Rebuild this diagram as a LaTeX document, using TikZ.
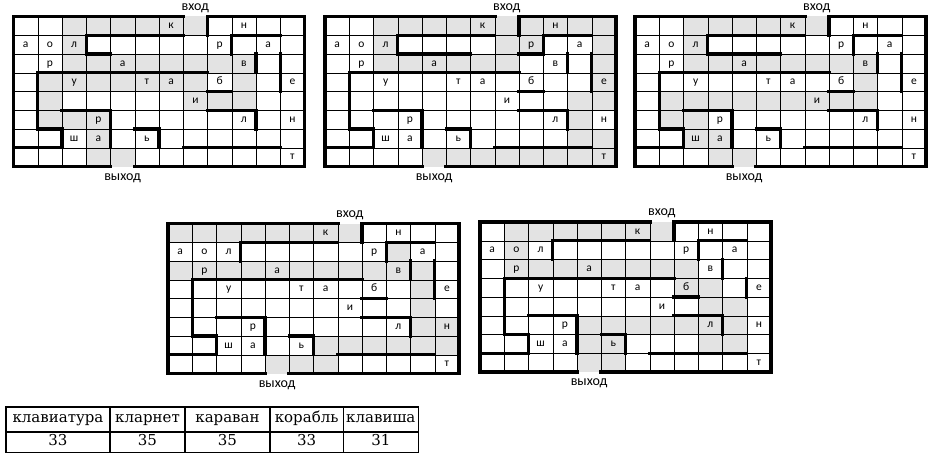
\documentclass[tikz,border=0pt]{standalone}
\usepackage{fontspec}
\setmainfont{Carlito}
\newfontfamily\tablefont{DejaVu Serif}

\definecolor{pathgray}{RGB}{227,227,227}

\newcommand{\mazeletters}{6/0/к, 9/0/н, 0/1/а, 1/1/о, 2/1/л, 8/1/р, 10/1/а,
  1/2/р, 4/2/а, 9/2/в, 2/3/у, 5/3/т, 6/3/а, 8/3/б, 11/3/е, 7/4/и,
  3/5/р, 9/5/л, 11/5/н, 2/6/ш, 3/6/а, 5/6/ь, 11/7/т}

% #1,#2 corner, #3 name, #4 shaded runs row/from/to, #5 extra walls
\newcommand{\maze}[5]{%
\begin{scope}[shift={(#1,#2)},x=24.25pt,y=-18.75pt]
\foreach \ry/\ca/\cb in {#4}
  \fill [pathgray] (\ca,\ry) rectangle (\cb+1,\ry+1);
\foreach \i in {1,...,11}
  \draw [black] (\i,0) -- (\i,8);
\foreach \j in {1,...,7}
  \draw [black] (0,\j) -- (12,\j);
\foreach \cx/\ry/\t in \mazeletters
  \node [letter] (#3-\cx-\ry) at (\cx+0.5,\ry+0.5) {\t};
\draw [outerwall] (7,0) -- (0,0) -- (0,8) -- (4,8);
\draw [outerwall] (5,8) -- (12,8) -- (12,0) -- (8,0);
\draw [wall] (8,0) -- (8,1);
\draw [wall] (3,2) -- (3,1) -- (7,1);
\draw [wall] (9,2) -- (9,1) -- (11,1);
\draw [wall] (10,2) -- (10,3);
\draw [wall] (8,3) -- (1,3) -- (1,6) -- (2,6) -- (2,7) -- (0,7);
\draw [wall] (8,4) -- (9,4);
\draw [wall] (2,5) -- (4,5) -- (4,7);
\draw [wall] (8,5) -- (10,5) -- (10,6);
\draw [wall] (5,6) -- (6,6) -- (6,7);
\draw [wall] (7,7) -- (11,7);
#5
\node [mazelabel] (#3-in) at (7.5,-0.44) {вход};
\node [mazelabel] (#3-out) at (4.5,8.62) {выход};
\end{scope}}

\begin{document}
\begin{tikzpicture}[x=1pt,y=-1pt]
\tikzstyle{letter}=[inner sep=0pt, font=\fontsize{11.5}{13}\selectfont, text height=1.45ex, text depth=0.3ex]
\tikzstyle{mazelabel}=[inner sep=0pt, font=\fontsize{14}{16}\selectfont]
\tikzstyle{wall}=[line width=3.2pt, line cap=rect]
\tikzstyle{outerwall}=[line width=3.8pt, line cap=rect]
\tikzstyle{tabline}=[line width=1.6pt]
\tikzstyle{tabtext}=[inner sep=0pt, font=\tablefont\fontsize{15}{17}\selectfont, text height=1.55ex, text depth=0.3ex]
\useasboundingbox (0,0) rectangle (937,460);

\maze{13.5}{16.5}{ma}{0/2/7, 1/2/2, 2/2/9, 3/1/7, 3/9/9, 4/1/1, 4/7/9, 5/1/3, 6/3/3, 7/3/4}
  {\draw [wall] (11,2) -- (11,4); \draw [wall] (3,2) -- (4,2);}
\maze{325}{16.5}{mb}{0/2/11, 1/2/2, 1/7/8, 1/11/11, 2/2/7, 2/11/11, 3/11/11, 4/10/11, 5/10/10, 6/10/11, 7/4/11}
  {\draw [wall] (11,2) -- (11,4); \draw [wall] (3,2) -- (6,2); \draw [wall] (8,2) -- (9,2);}
\maze{635}{16.5}{mc}{0/2/7, 1/2/2, 2/2/9, 3/9/9, 4/1/9, 5/1/2, 6/2/3, 7/3/4}
  {\draw [wall] (11,2) -- (11,4); \draw [wall] (3,2) -- (6,2);}
\maze{168}{223.5}{md}{0/0/7, 1/9/9, 2/0/10, 3/10/10, 4/10/10, 5/10/11, 6/6/11, 7/4/6}
  {\draw [wall] (11,2) -- (11,4);}
\maze{480}{222}{me}{0/1/7, 1/1/1, 2/1/8, 3/8/9, 4/9/10, 5/4/10, 6/4/5, 6/9/10, 7/4/5}
  {\draw [wall] (11,3) -- (11,4);}

\draw [tabline] (6,406.7) rectangle (418.3,452.3);
\draw [tabline] (6,431.7) -- (418.3,431.7);
\foreach \xx in {110,185,270,343.3}
  \draw [tabline] (\xx,406.7) -- (\xx,452.3);
\foreach \n/\xa/\xb/\w/\v in {1/6/110/клавиатура/33, 2/110/185/кларнет/35,
    3/185/270/караван/35, 4/270/343.3/корабль/33, 5/343.3/418.3/клавиша/31}
{
  \node [tabtext] (word\n) at ({(\xa+\xb)/2},419.4) {\w};
  \node [tabtext] (len\n) at ({(\xa+\xb)/2},442.3) {\v};
}
\end{tikzpicture}
\end{document}
